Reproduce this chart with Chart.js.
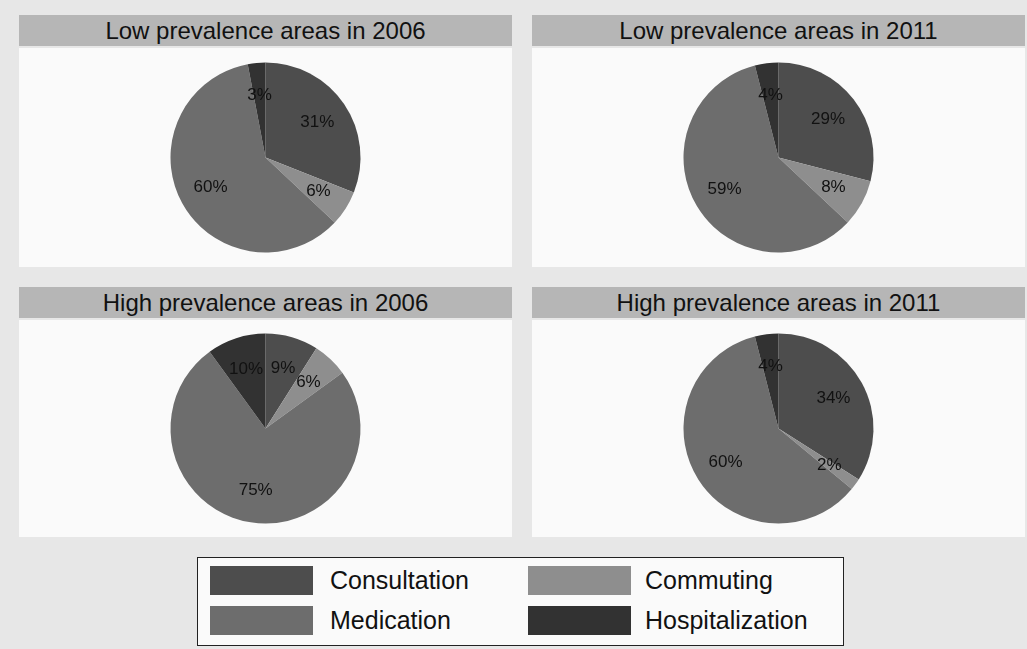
<!DOCTYPE html>
<html>
<head>
<meta charset="utf-8">
<script src="https://cdn.jsdelivr.net/npm/chart.js@4/dist/chart.umd.min.js"></script>
<style>
  html, body { margin: 0; padding: 0; }
  body { width: 1027px; height: 649px; background: #e7e7e7; position: relative; overflow: hidden;
         font-family: "Liberation Sans", Arial, Helvetica, sans-serif; }
  .panel { position: absolute; }
  .ttl { position: absolute; left: 0; right: 0; top: 0; height: 31px; background: #b6b6b6;
         font-size: 24px; line-height: 31px; text-align: center; color: #111; }
  .plot { position: absolute; left: 0; right: 0; background: #fafafa; }
  .legend { position: absolute; left: 197px; top: 557px; width: 645px; height: 87px;
            background: #fafafa; border: 1.5px solid #222; }
  .sw { position: absolute; width: 103px; height: 29px; }
  .lt { position: absolute; font-size: 25px; line-height: 29px; color: #111; }
</style>
</head>
<body>
<div id="wrap"></div>
<div class="legend" id="legend"></div>
<script>
  // Categorias e valores (%)
  const categorias = ['Consultation', 'Commuting', 'Medication', 'Hospitalization'];
  const cores = ['#4d4d4d', '#8e8e8e', '#6d6d6d', '#323232'];
  const titulos = ['Low prevalence areas in 2006', 'Low prevalence areas in 2011',
                   'High prevalence areas in 2006', 'High prevalence areas in 2011'];
  const baixa2006 = [31, 6, 60, 3];
  const baixa2011 = [29, 8, 59, 4];
  const alta2006 = [9, 6, 75, 10];
  const alta2011 = [34, 2, 60, 4];
  const series = [baixa2006, baixa2011, alta2006, alta2011];

  // posição dos painéis
  const paineis = [
    { x: 19, y: 15, w: 493, h: 252 },
    { x: 532, y: 15, w: 493, h: 252 },
    { x: 19, y: 287, w: 493, h: 250 },
    { x: 532, y: 287, w: 493, h: 250 }
  ];

  // Plugin para escrever as porcentagens dentro das fatias
  const rotulos = {
    id: 'rotulos',
    afterDatasetsDraw(chart) {
      const ctx = chart.ctx;
      const meta = chart.getDatasetMeta(0);
      const dados = chart.data.datasets[0].data;
      ctx.save();
      ctx.font = '17px "Liberation Sans", Arial, sans-serif';
      ctx.fillStyle = '#111';
      ctx.textAlign = 'center';
      ctx.textBaseline = 'middle';
      meta.data.forEach((arc, i) => {
        const p = arc.getProps(['x', 'y', 'startAngle', 'endAngle', 'outerRadius'], true);
        const meio = (p.startAngle + p.endAngle) / 2;
        const r = p.outerRadius * 0.66;
        ctx.fillText(dados[i] + '%', p.x + Math.cos(meio) * r, p.y + Math.sin(meio) * r);
      });
      ctx.restore();
    }
  };

  const wrap = document.getElementById('wrap');
  paineis.forEach((pn, i) => {
    const div = document.createElement('div');
    div.className = 'panel';
    div.style.cssText = `left:${pn.x}px;top:${pn.y}px;width:${pn.w}px;height:${pn.h}px;`;
    const plotH = pn.h - 33;
    div.innerHTML = `<div class="ttl">${titulos[i]}</div>
      <div class="plot" style="top:33px;height:${plotH}px"><canvas id="c${i}" width="${pn.w}" height="${plotH}"></canvas></div>`;
    wrap.appendChild(div);
    const pad = (plotH - 190) / 2;

    new Chart(document.getElementById('c' + i), {
      type: 'pie',
      data: { labels: categorias, datasets: [{ data: series[i], backgroundColor: cores, borderWidth: 0 }] },
      options: {
        responsive: false,
        animation: false,
        layout: { padding: { top: pad, bottom: pad } },
        plugins: { legend: { display: false }, tooltip: { enabled: false } }
      },
      plugins: [rotulos]
    });
  });

  // Legenda
  const leg = document.getElementById('legend');
  const posLeg = [
    { sx: 12, tx: 132, y: 8 },
    { sx: 330, tx: 447, y: 8 },
    { sx: 12, tx: 132, y: 48 },
    { sx: 330, tx: 447, y: 48 }
  ];
  categorias.forEach((c, i) => {
    const p = posLeg[i];
    leg.insertAdjacentHTML('beforeend',
      `<div class="sw" style="left:${p.sx}px;top:${p.y}px;background:${cores[i]}"></div>` +
      `<div class="lt" style="left:${p.tx}px;top:${p.y}px">${c}</div>`);
  });
</script>
</body>
</html>
